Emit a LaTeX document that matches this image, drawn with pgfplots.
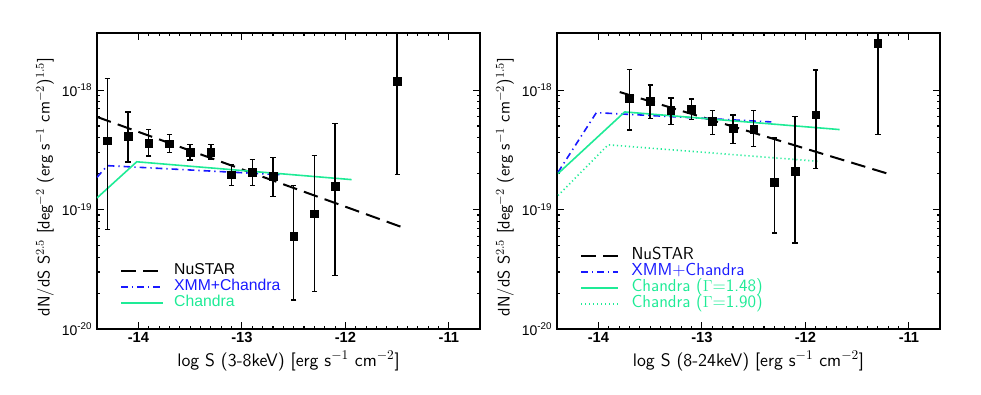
\documentclass[border=0pt]{standalone}
\usepackage{pgfplots}
\pgfplotsset{compat=1.18}
\usepackage{fontspec}
\newfontfamily\helv{Liberation Sans}
\definecolor{nblue}{RGB}{25,25,255}
\definecolor{ngreen}{RGB}{30,235,150}

\pgfplotstableread{
x      y        ep        em
-14.3  3.76e-19 8.74e-19  3.08e-19
-14.1  4.10e-19 2.47e-19  1.60e-19
-13.9  3.61e-19 1.06e-19  8.10e-20
-13.7  3.56e-19 7.10e-20  5.60e-20
-13.5  3.03e-19 4.90e-20  4.30e-20
-13.3  3.03e-19 4.50e-20  3.80e-20
-13.1  1.95e-19 4.30e-20  3.60e-20
-12.9  2.04e-19 5.90e-20  4.50e-20
-12.7  1.89e-19 8.40e-20  6.10e-20
-12.5  6.00e-20 9.90e-20  4.25e-20
-12.3  9.20e-20 1.90e-19  7.15e-20
-12.1  1.56e-19 3.66e-19  1.28e-19
-11.5  1.18e-18 3.82e-18  9.84e-19
}\lefttab

\pgfplotstableread{
x      y        ep        em
-13.7  8.59e-19 6.31e-19  3.95e-19
-13.5  8.00e-19 3.00e-19  2.20e-19
-13.3  6.74e-19 1.86e-19  1.58e-19
-13.1  6.90e-19 1.50e-19  1.26e-19
-12.9  5.50e-19 1.28e-19  1.24e-19
-12.7  4.78e-19 1.42e-19  1.22e-19
-12.5  4.72e-19 1.98e-19  1.37e-19
-12.3  1.69e-19 2.29e-19  1.053e-19
-12.1  2.09e-19 3.91e-19  1.564e-19
-11.9  6.20e-19 8.50e-19  4.00e-19
-11.3  2.45e-18 2.55e-18  2.026e-18
}\righttab

\tikzset{
 nustar/.style={black, line width=1.5pt, dash pattern=on 11pt off 5.5pt},
 xmmc/.style={nblue, line width=1.2pt, dash pattern=on 5pt off 3pt on 1pt off 3pt},
 chan/.style={ngreen, line width=1.2pt},
 chandot/.style={ngreen, line width=1.2pt, dash pattern=on 0.9pt off 2.1pt},
}

\begin{document}
\begin{tikzpicture}
\path[use as bounding box] (-72.75pt,-48.75pt) rectangle (663pt,246.75pt);
\begin{axis}[
  scale only axis, width=287.25pt, height=222pt,
  xmin=-14.4, xmax=-10.7, ymode=log, ymin=1e-20, ymax=3e-18,
  xtick={-14,-13,-12,-11}, xticklabels={-14,-13,-12,-11},
  minor x tick num=9,
  ytick={1e-20,1e-19,1e-18},
  yticklabels={10\textsuperscript{-20},10\textsuperscript{-19},10\textsuperscript{-18}},
  tick align=inside, major tick length=5pt, minor tick length=2.5pt,
  every tick/.style={black, line width=0.8pt},
  axis line style={line width=1.4pt},
  yticklabel style={font=\helv\fontsize{10.5}{12}\selectfont},
  xticklabel style={font=\helv\bfseries\fontsize{11}{12}\selectfont, yshift=1pt},
  xlabel style={at={(axis description cs:0.5,-0.108)}, anchor=center, font=\sffamily\fontsize{13.6}{16}\selectfont},
  ylabel style={at={(axis description cs:-0.136,0.48)}, anchor=center, font=\sffamily\fontsize{12.6}{15}\selectfont},
  ylabel={dN/dS S$^{2.5}$ [deg$^{-2}$ (erg s$^{-1}$ cm$^{-2}$)$^{1.5}$]},
  xlabel={log S (3-8keV) [erg s$^{-1}$ cm$^{-2}$]},
  legend style={draw=none, fill=none, font=\helv\fontsize{11.8}{13}\selectfont, row sep=0pt, inner sep=0pt,
    nodes={inner ysep=0pt, text height=8.5pt, text depth=3.5pt},
    at={(0.06,0.223)}, anchor=north west},
  legend cell align=left,
  legend image code/.code={\draw[#1] (0pt,0pt) -- (31pt,0pt); \path (37pt,0pt);}]
\addplot[nustar] coordinates {(-14.4,5.96e-19) (-11.42,6.95e-20)};
\addlegendentry{\textcolor{black}{NuSTAR}}
\addplot[xmmc] coordinates {(-14.4,1.86e-19) (-14.3,2.33e-19) (-12.6,1.95e-19)};
\addlegendentry{\textcolor{nblue}{XMM+Chandra}}
\addplot[chan] coordinates {(-14.4,1.25e-19) (-14.016,2.51e-19) (-11.94,1.78e-19)};
\addlegendentry{\textcolor{ngreen}{Chandra}}
\addplot[forget plot, only marks, mark=square*, mark size=2.9pt, black, mark options={fill=black, solid},
   error bars/.cd, y dir=both, y explicit,
   error bar style={line width=1.1pt, black, solid},
   error mark options={rotate=90, mark size=2pt, line width=1pt, black}]
   table[x=x, y=y, y error plus=ep, y error minus=em] {\lefttab};
\end{axis}
\begin{axis}[at={(345pt,0pt)},
  scale only axis, width=287.25pt, height=222pt,
  xmin=-14.4, xmax=-10.7, ymode=log, ymin=1e-20, ymax=3e-18,
  xtick={-14,-13,-12,-11}, xticklabels={-14,-13,-12,-11},
  minor x tick num=9,
  ytick={1e-20,1e-19,1e-18},
  yticklabels={10\textsuperscript{-20},10\textsuperscript{-19},10\textsuperscript{-18}},
  tick align=inside, major tick length=5pt, minor tick length=2.5pt,
  every tick/.style={black, line width=0.8pt},
  axis line style={line width=1.4pt},
  yticklabel style={font=\helv\fontsize{10.5}{12}\selectfont},
  xticklabel style={font=\helv\bfseries\fontsize{11}{12}\selectfont, yshift=1pt},
  xlabel style={at={(axis description cs:0.5,-0.108)}, anchor=center, font=\sffamily\fontsize{13.6}{16}\selectfont},
  ylabel style={at={(axis description cs:-0.136,0.48)}, anchor=center, font=\sffamily\fontsize{12.6}{15}\selectfont},
  ylabel={dN/dS S$^{2.5}$ [deg$^{-2}$ (erg s$^{-1}$ cm$^{-2}$)$^{1.5}$]},
  xlabel={log S (8-24keV) [erg s$^{-1}$ cm$^{-2}$]},
  legend style={draw=none, fill=none, font=\sffamily\fontsize{13}{15}\selectfont, row sep=0pt, inner sep=0pt,
    nodes={inner ysep=0pt, text height=8.5pt, text depth=3.5pt},
    at={(0.06,0.275)}, anchor=north west},
  legend cell align=left,
  legend image code/.code={\draw[#1] (0pt,0pt) -- (27.5pt,0pt); \path (35pt,0pt);}]
\addplot[nustar] coordinates {(-13.794,9.62e-19) (-11.216,2.01e-19)};
\addlegendentry{\textcolor{black}{NuSTAR}}
\addplot[xmmc] coordinates {(-14.39,2.05e-19) (-14.02,6.47e-19) (-12.33,5.41e-19)};
\addlegendentry{\textcolor{nblue}{XMM+Chandra}}
\addplot[chan] coordinates {(-14.39,2.0e-19) (-13.746,6.56e-19) (-11.67,4.67e-19)};
\addlegendentry{\textcolor{ngreen}{Chandra ($\Gamma$=1.48)}}
\addplot[chandot] coordinates {(-14.39,1.31e-19) (-13.906,3.48e-19) (-11.866,2.53e-19)};
\addlegendentry{\textcolor{ngreen}{Chandra ($\Gamma$=1.90)}}
\addplot[forget plot, only marks, mark=square*, mark size=2.9pt, black, mark options={fill=black, solid},
   error bars/.cd, y dir=both, y explicit,
   error bar style={line width=1.1pt, black, solid},
   error mark options={rotate=90, mark size=2pt, line width=1pt, black}]
   table[x=x, y=y, y error plus=ep, y error minus=em] {\righttab};
\end{axis}
\end{tikzpicture}
\end{document}
